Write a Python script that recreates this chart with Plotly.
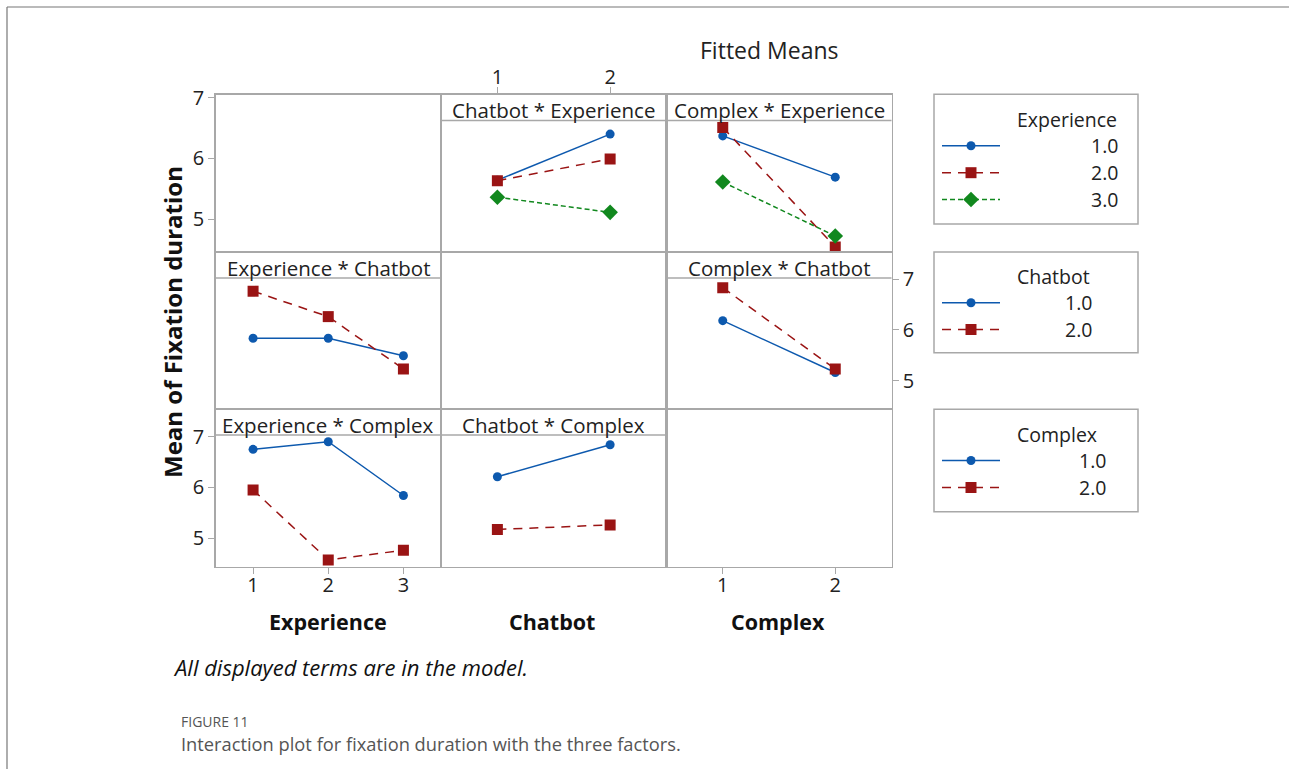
import plotly.graph_objects as go

W, H = 1289, 769

# ---------------- data ----------------
experience_levels = [1, 2, 3]
chatbot_levels = [1, 2]
complex_levels = [1, 2]
tick_vals_y = [5, 6, 7]

# Chatbot * Experience  (x = Chatbot, one line per Experience level)
cb_by_exp1 = [5.64, 6.40]
cb_by_exp2 = [5.63, 5.99]
cb_by_exp3 = [5.36, 5.11]
# Complex * Experience  (x = Complex, one line per Experience level)
cx_by_exp1 = [6.37, 5.69]
cx_by_exp2 = [6.51, 4.54]
cx_by_exp3 = [5.61, 4.72]
# Experience * Chatbot  (x = Experience, one line per Chatbot level)
ex_by_cb1 = [5.835, 5.835, 5.49]
ex_by_cb2 = [6.76, 6.26, 5.23]
# Complex * Chatbot  (x = Complex, one line per Chatbot level)
cx_by_cb1 = [6.18, 5.16]
cx_by_cb2 = [6.83, 5.23]
# Experience * Complex  (x = Experience, one line per Complex level)
ex_by_cx1 = [6.75, 6.90, 5.84]
ex_by_cx2 = [5.95, 4.57, 4.76]
# Chatbot * Complex  (x = Chatbot, one line per Complex level)
cb_by_cx1 = [6.21, 6.84]
cb_by_cx2 = [5.17, 5.26]

legend_exp_labels = ["1.0", "2.0", "3.0"]
legend_cb_labels = ["1.0", "2.0"]
legend_cx_labels = ["1.0", "2.0"]

# ---------------- styles ----------------
FONT = "Open Sans"
BLUE = "#0D59AE"
RED = "#9A1414"
GREEN = "#11881E"
GRID = "#A8A8A8"
TXT = "#222222"

STYLE = [
    dict(color=BLUE, dash="solid", symbol="circle", size=9),
    dict(color=RED, dash="9px,7px", symbol="square", size=11),
    dict(color=GREEN, dash="5px,3px", symbol="diamond", size=12),
]

col_px = [(215.5, 441.0), (441.0, 666.5), (666.5, 891.5)]
row_px = [(94.5, 252.0), (252.0, 409.0), (409.0, 566.5)]
row_ranges = [(4.456, 7.053), (4.443, 7.531), (4.44, 7.545)]
col_ranges = [(0.5, 3.5), (0.5, 2.5), (0.5, 2.5)]
STRIP_H = 26


def px_x(x):
    return x / W


def px_y(y):
    return 1 - y / H


panels = [
    (0, 1, "Chatbot * Experience", chatbot_levels, [cb_by_exp1, cb_by_exp2, cb_by_exp3]),
    (0, 2, "Complex * Experience", complex_levels, [cx_by_exp1, cx_by_exp2, cx_by_exp3]),
    (1, 0, "Experience * Chatbot", experience_levels, [ex_by_cb1, ex_by_cb2]),
    (1, 2, "Complex * Chatbot", complex_levels, [cx_by_cb1, cx_by_cb2]),
    (2, 0, "Experience * Complex", experience_levels, [ex_by_cx1, ex_by_cx2]),
    (2, 1, "Chatbot * Complex", chatbot_levels, [cb_by_cx1, cb_by_cx2]),
]

fig = go.Figure()
layout = dict(
    width=W, height=H, autosize=False, margin=dict(l=0, r=0, t=0, b=0, pad=0, autoexpand=False),
    paper_bgcolor="white", plot_bgcolor="rgba(0,0,0,0)",
    showlegend=False, font=dict(family=FONT, color=TXT),
)
shapes = []
annotations = []
TICK_FONT = dict(family=FONT, size=20, color=TXT)

for r in range(3):
    for c in range(3):
        k = r * 3 + c + 1
        xa = "xaxis" if k == 1 else f"xaxis{k}"
        ya = "yaxis" if k == 1 else f"yaxis{k}"
        x0, x1 = col_px[c]
        y0, y1 = row_px[r]
        xdict = dict(
            domain=[px_x(x0), px_x(x1)], range=list(col_ranges[c]),
            anchor=f"y{k if k > 1 else ''}", showgrid=False, zeroline=False,
            showline=True, mirror=True, linecolor=GRID, linewidth=1.3,
            ticks="", showticklabels=False, fixedrange=True, automargin=False,
        )
        ydict = dict(
            domain=[px_y(y1), px_y(y0)], range=list(row_ranges[r]),
            anchor=f"x{k if k > 1 else ''}", showgrid=False, zeroline=False,
            showline=True, mirror=True, linecolor=GRID, linewidth=1.3,
            ticks="", showticklabels=False, fixedrange=True, automargin=False,
        )
        if (r == 2 and c == 0):
            xdict.update(ticks="outside", ticklen=6, tickcolor=GRID, showticklabels=True,
                         tickvals=experience_levels, ticktext=[str(v) for v in experience_levels],
                         tickfont=TICK_FONT, side="bottom", ticklabelstandoff=-6)
        if (r == 0 and c == 1):
            xdict.update(ticks="outside", ticklen=6, tickcolor=GRID, showticklabels=True,
                         tickvals=chatbot_levels, ticktext=[str(v) for v in chatbot_levels],
                         tickfont=TICK_FONT, side="top", ticklabelstandoff=-5)
        if (r == 2 and c == 2):
            xdict.update(ticks="outside", ticklen=6, tickcolor=GRID, showticklabels=True,
                         tickvals=complex_levels, ticktext=[str(v) for v in complex_levels],
                         tickfont=TICK_FONT, side="bottom", ticklabelstandoff=-6)
        if (c == 0 and r in (0, 2)):
            ydict.update(ticks="outside", ticklen=6, tickcolor=GRID, showticklabels=True,
                         tickvals=tick_vals_y, tickfont=TICK_FONT, side="left")
        if (c == 2 and r == 1):
            ydict.update(ticks="outside", ticklen=6, tickcolor=GRID, showticklabels=True,
                         tickvals=tick_vals_y, tickfont=TICK_FONT, side="right")
        layout[xa] = xdict
        layout[ya] = ydict
        fig.add_trace(go.Scatter(x=[None], y=[None], xaxis=f"x{k if k > 1 else ''}",
                                 yaxis=f"y{k if k > 1 else ''}", hoverinfo="skip"))

for r, c, title, xs, series in panels:
    k = r * 3 + c + 1
    xr = f"x{k if k > 1 else ''}"
    yr = f"y{k if k > 1 else ''}"
    for i, ys in enumerate(series):
        st = STYLE[i]
        fig.add_trace(go.Scatter(
            x=xs, y=ys, xaxis=xr, yaxis=yr, mode="lines+markers",
            line=dict(color=st["color"], width=1.5, dash=st["dash"]),
            marker=dict(color=st["color"], symbol=st["symbol"], size=st["size"]),
            hoverinfo="skip",
        ))
    x0, x1 = col_px[c]
    y0, _ = row_px[r]
    shapes.append(dict(type="line", xref="paper", yref="paper",
                       x0=px_x(x0), x1=px_x(x1), y0=px_y(y0 + STRIP_H), y1=px_y(y0 + STRIP_H),
                       line=dict(color=GRID, width=1.3)))
    annotations.append(dict(text=title, xref="paper", yref="paper",
                            x=px_x((x0 + x1) / 2), y=px_y(y0 + STRIP_H / 2 + 2.5),
                            xanchor="center", yanchor="middle", showarrow=False,
                            font=dict(family=FONT, size=20.5, color=TXT)))

layout["xaxis10"] = dict(domain=[0, 1], range=[0, W], anchor="y10", visible=False, fixedrange=True)
layout["yaxis10"] = dict(domain=[0, 1], range=[H, 0], anchor="x10", visible=False, fixedrange=True)

legend_boxes = [
    ("Experience", legend_exp_labels, (94.3, 224.0), 119.5, [145.7, 172.7, 199.5], 1120),
    ("Chatbot", legend_cb_labels, (252.0, 352.7), 276.5, [302.7, 329.5], 1094),
    ("Complex", legend_cx_labels, (409.3, 511.7), 434.5, [460.5, 487.5], 1108),
]
for name, labels, (by0, by1), ty, rows_y, right_x in legend_boxes:
    shapes.append(dict(type="rect", xref="paper", yref="paper",
                       x0=px_x(934), x1=px_x(1138), y0=px_y(by1), y1=px_y(by0),
                       line=dict(color=GRID, width=1.5), fillcolor="rgba(0,0,0,0)"))
    annotations.append(dict(text=name, xref="paper", yref="paper", x=px_x(1015), y=px_y(ty),
                            xanchor="left", yanchor="middle", showarrow=False,
                            font=dict(family=FONT, size=19.5, color=TXT)))
    for i, lab in enumerate(labels):
        st = STYLE[i]
        yy = rows_y[i]
        fig.add_trace(go.Scatter(x=[942, 1000], y=[yy, yy], xaxis="x10", yaxis="y10",
                                 mode="lines", line=dict(color=st["color"], width=1.5, dash=st["dash"]),
                                 hoverinfo="skip"))
        fig.add_trace(go.Scatter(x=[971], y=[yy], xaxis="x10", yaxis="y10", mode="markers",
                                 marker=dict(color=st["color"], symbol=st["symbol"], size=st["size"]),
                                 hoverinfo="skip"))
        annotations.append(dict(text=lab, xref="paper", yref="paper", x=px_x(right_x), y=px_y(yy),
                                xanchor="right", yanchor="middle", showarrow=False,
                                font=dict(family=FONT, size=19.5, color=TXT)))

annotations += [
    dict(text="Fitted Means", xref="paper", yref="paper", x=px_x(769), y=px_y(50),
         xanchor="center", yanchor="middle", showarrow=False,
         font=dict(family=FONT, size=23, color=TXT)),
    dict(text="<b>Mean of Fixation duration</b>", xref="paper", yref="paper", x=px_x(172), y=px_y(322),
         xanchor="center", yanchor="middle", textangle=-90, showarrow=False,
         font=dict(family=FONT, size=24, color="#111")),
    dict(text="<b>Experience</b>", xref="paper", yref="paper", x=px_x(328), y=px_y(621),
         xanchor="center", yanchor="middle", showarrow=False, font=dict(family=FONT, size=21.5, color="#111")),
    dict(text="<b>Chatbot</b>", xref="paper", yref="paper", x=px_x(552), y=px_y(621),
         xanchor="center", yanchor="middle", showarrow=False, font=dict(family=FONT, size=21.5, color="#111")),
    dict(text="<b>Complex</b>", xref="paper", yref="paper", x=px_x(778), y=px_y(621),
         xanchor="center", yanchor="middle", showarrow=False, font=dict(family=FONT, size=21.5, color="#111")),
    dict(text="<i>All displayed terms are in the model.</i>", xref="paper", yref="paper",
         x=px_x(171), y=px_y(667), xanchor="left", yanchor="middle", showarrow=False,
         font=dict(family=FONT, size=22, color="#111")),
    dict(text="FIGURE 11", xref="paper", yref="paper", x=px_x(179), y=px_y(721),
         xanchor="left", yanchor="middle", showarrow=False, font=dict(family=FONT, size=14, color="#555")),
    dict(text="Interaction plot for fixation duration with the three factors.", xref="paper", yref="paper",
         x=px_x(179), y=px_y(743), xanchor="left", yanchor="middle", showarrow=False,
         font=dict(family=FONT, size=18.3, color="#555")),
]

# page frame (top and left)
shapes.append(dict(type="line", xref="paper", yref="paper", x0=px_x(7), x1=1, y0=px_y(7), y1=px_y(7),
                   line=dict(color="#777", width=1.2)))
shapes.append(dict(type="line", xref="paper", yref="paper", x0=px_x(7), x1=px_x(7), y0=0, y1=px_y(7),
                   line=dict(color="#777", width=1.2)))

layout["shapes"] = shapes
layout["annotations"] = annotations
fig.update_layout(**layout)

post = ("document.body.style.margin='0';document.body.style.overflow='hidden';"
        "var d=document.getElementById('{plot_id}');d.style.position='fixed';"
        "d.style.top='0px';d.style.left='0px';")
fig.write_html("out.html", config=dict(displayModeBar=False, staticPlot=True), post_script=post)
